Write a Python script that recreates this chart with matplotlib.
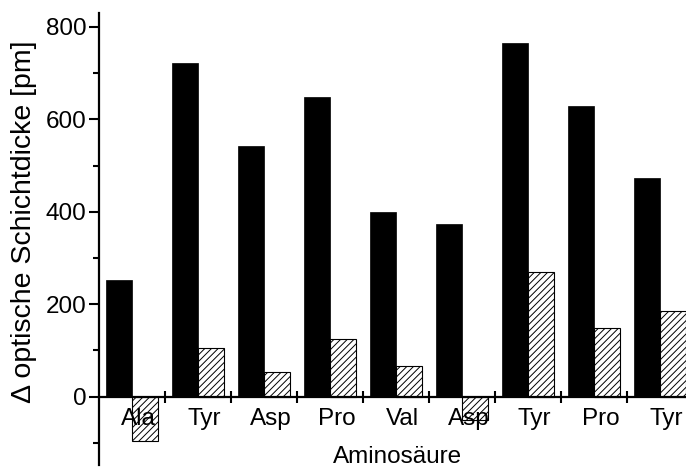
import matplotlib
matplotlib.use("Agg")
import matplotlib.pyplot as plt
from matplotlib.ticker import MultipleLocator, FixedLocator, NullFormatter
import numpy as np

# Aminosaeuren in Reihenfolge der Kopplung
aminos = ["Ala", "Tyr", "Asp", "Pro", "Val", "Asp", "Tyr", "Pro", "Tyr"]
# Delta optische Schichtdicke [pm]
delta_gesamt = [252, 721, 542, 649, 400, 373, 766, 628, 474]
delta_schritt = [-95, 105, 53, 125, 66, -50, 269, 148, 185]

plt.rcParams['font.family'] = ['Liberation Sans', 'DejaVu Sans']
plt.rcParams['font.size'] = 17.5
plt.rcParams['hatch.linewidth'] = 0.7

fig = plt.figure(figsize=(6.86, 4.70), dpi=100)
ax = fig.add_axes([99 / 686, 5 / 470, 587 / 686, 452 / 470])

x = np.arange(len(aminos))
w = 0.4
ax.bar(x - w / 2, delta_gesamt, w, color="black", edgecolor="black", linewidth=0.5)
ax.bar(x + w / 2, delta_schritt, w, color="white", edgecolor="black",
       linewidth=0.8, hatch="/////")

ax.set_xlim(-0.5, 8.394)
ax.set_ylim(-148, 830)

for s in ["top", "right"]:
    ax.spines[s].set_visible(False)
ax.spines["bottom"].set_position(("data", 0))
ax.spines["bottom"].set_linewidth(1.6)
ax.spines["left"].set_linewidth(1.6)

# y-Achse
ax.yaxis.set_major_locator(MultipleLocator(200))
ax.yaxis.set_minor_locator(MultipleLocator(100))
ax.tick_params(axis="y", which="major", direction="out", length=7, width=1.5, pad=2)
ax.tick_params(axis="y", which="minor", direction="out", length=4.5, width=1.5)

# x-Achse: Striche zwischen den Gruppen, Beschriftung in der Mitte
ax.xaxis.set_major_locator(FixedLocator(x[:-1] + 0.5))
ax.xaxis.set_major_formatter(NullFormatter())
ax.xaxis.set_minor_locator(FixedLocator(x + 0.1))
ax.set_xticklabels(aminos, minor=True)
ax.tick_params(axis="x", which="major", direction="inout", length=8.6, width=1.5)
ax.tick_params(axis="x", which="minor", direction="out", length=0, pad=8.5)

ax.set_ylabel("\u0394 optische Schichtdicke [pm]", va="center", fontsize=20.5)
ax.yaxis.set_label_coords(-0.128, 0.538)
ax.set_xlabel("Aminosäure", va="bottom")
ax.xaxis.set_label_coords(0.509, -0.007)

fig.savefig("out.png", dpi=100)
